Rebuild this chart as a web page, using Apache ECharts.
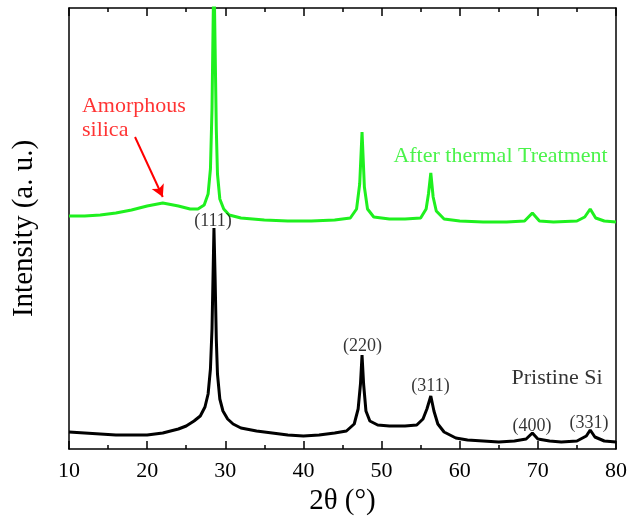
<!DOCTYPE html>
<html>
<head>
<meta charset="utf-8">
<script src="https://cdn.jsdelivr.net/npm/echarts@6/dist/echarts.min.js"></script>
<style>
  html, body { margin: 0; padding: 0; background: #fff; }
  #chart { width: 632px; height: 522px; }
</style>
</head>
<body>
<div id="chart"></div>
<script>
// 2θ / intensity pairs (arbitrary units)
const pristine = [
  [10, 17], [12, 16], [14, 15], [16, 14], [18, 14], [20, 14], [22, 16], [24, 20],
  [25, 23], [26, 28], [26.8, 33], [27.4, 42], [27.8, 55], [28.1, 80], [28.3, 120],
  [28.45, 180], [28.55, 221], [28.7, 170], [28.85, 110], [29.0, 75], [29.3, 50],
  [29.7, 38], [30.3, 30], [31, 25], [32, 21], [34, 18], [36, 16], [38, 14], [40, 13],
  [42, 14], [44, 16], [45.5, 18], [46.5, 25], [47.0, 40], [47.3, 65], [47.5, 94],
  [47.7, 65], [48.0, 38], [48.5, 28], [49.5, 24], [51, 23], [53, 23], [54.5, 24],
  [55.3, 30], [55.8, 40], [56.3, 53], [56.7, 38], [57.2, 25], [58, 17], [59.5, 11],
  [61, 9], [63, 8], [65, 7], [67, 8], [68.5, 10], [69.3, 16], [70, 10], [71.5, 8],
  [73, 7], [75, 8], [76.2, 13], [76.7, 19], [77.3, 12], [78.5, 8], [80, 7]
];
const treated = [
  [10, 233], [12, 233], [14, 234], [16, 236], [18, 239], [20, 243], [22, 246], [24, 243],
  [25.5, 240], [26.5, 240], [27.3, 244], [27.8, 255], [28.1, 280], [28.3, 340],
  [28.45, 430], [28.55, 480], [28.7, 400], [28.85, 320], [29.0, 275], [29.3, 250],
  [29.8, 240], [30.5, 234], [32, 231], [35, 229], [38, 228], [41, 228], [44, 229],
  [46, 231], [46.8, 240], [47.2, 265], [47.5, 317], [47.8, 262], [48.2, 240], [49, 232],
  [51, 230], [53, 230], [55, 231], [55.7, 240], [56.0, 255], [56.3, 276], [56.6, 252],
  [57.0, 238], [58, 230], [60, 228], [63, 227], [66, 227], [68.3, 228], [69.3, 236],
  [70.2, 228], [72, 227], [75, 228], [76.0, 232], [76.7, 240], [77.4, 231], [78.5, 228],
  [80, 227]
];
const xTicks = [10, 20, 30, 40, 50, 60, 70, 80];
// peak labels: [2θ, y, text]
const hklLabels = [
  [28.43, 228, '(111)'], [47.56, 103, '(220)'], [56.26, 63, '(311)'],
  [69.25, 23, '(400)'], [76.55, 26, '(331)']
];
const seriesNames = ['Pristine Si', 'After thermal Treatment'];
const seriesNamePos = [[72.45, 71], [65.22, 293]];
const silicaNote = [11.66, 331, 'Amorphous\nsilica'];
const arrowFrom = [18.45, 312];
const arrowTo = [22.0, 252];

const black = '#000000';
const green = '#1ef01e';
const red = '#ff0000';
const font = '"Liberation Serif", "Times New Roman", serif';

const chart = echarts.init(document.getElementById('chart'));

const xAxisBase = {
  type: 'value',
  min: xTicks[0],
  max: xTicks[xTicks.length - 1],
  interval: 10,
  splitLine: { show: false },
  axisLine: { show: true, onZero: false, lineStyle: { color: black, width: 1.5 } },
  axisTick: { show: true, inside: true, length: 8, lineStyle: { color: black, width: 1.5 } },
  minorTick: { show: true, splitNumber: 2, length: 4, lineStyle: { color: black, width: 1.5 } }
};

const yAxisBase = {
  type: 'value',
  min: 0,
  max: 441,
  axisLine: { show: true, onZero: false, lineStyle: { color: black, width: 1.5 } },
  axisTick: { show: false },
  axisLabel: { show: false },
  splitLine: { show: false }
};

const option = {
  animation: false,
  backgroundColor: '#fff',
  grid: { left: 69, right: 16, top: 8, bottom: 73 },
  xAxis: [
    Object.assign({}, xAxisBase, {
      position: 'bottom',
      name: '2θ (°)',
      nameLocation: 'middle',
      nameGap: 38,
      nameTextStyle: { fontFamily: font, fontSize: 29, color: black },
      axisLabel: { fontFamily: font, fontSize: 22, color: black, margin: 11 }
    }),
    Object.assign({}, xAxisBase, {
      position: 'top',
      axisLabel: { show: false }
    })
  ],
  yAxis: [
    Object.assign({}, yAxisBase, {
      position: 'left',
      name: 'Intensity (a. u.)',
      nameLocation: 'middle',
      nameGap: 30,
      nameTextStyle: { fontFamily: font, fontSize: 29, color: black }
    }),
    Object.assign({}, yAxisBase, { position: 'right' })
  ],
  series: [
    {
      name: seriesNames[0],
      type: 'line',
      data: pristine,
      showSymbol: false,
      lineStyle: { color: black, width: 3 },
      z: 2
    },
    {
      name: seriesNames[1],
      type: 'line',
      data: treated,
      showSymbol: false,
      clip: true,
      lineStyle: { color: green, width: 3 },
      z: 3,
      markLine: {
        silent: true,
        symbol: ['none', 'arrow'],
        symbolSize: [10, 12],
        label: { show: false },
        lineStyle: { color: red, width: 2, type: 'solid' },
        data: [[{ coord: arrowFrom }, { coord: arrowTo }]]
      }
    },
    {
      // peak indices
      type: 'scatter',
      silent: true,
      symbolSize: 0,
      data: hklLabels.map(d => ({ value: [d[0], d[1]], name: d[2] })),
      label: {
        show: true,
        position: 'inside',
        formatter: p => p.name,
        fontFamily: font,
        fontSize: 18,
        color: black
      },
      z: 5
    },
    {
      // sample names
      type: 'scatter',
      silent: true,
      symbolSize: 0,
      data: [
        { value: seriesNamePos[0], name: seriesNames[0], label: { color: black } },
        { value: seriesNamePos[1], name: seriesNames[1], label: { color: green } }
      ],
      label: {
        show: true,
        position: 'inside',
        formatter: p => p.name,
        fontFamily: font,
        fontSize: 22
      },
      z: 5
    },
    {
      type: 'scatter',
      silent: true,
      symbolSize: 0,
      data: [{ value: [silicaNote[0], silicaNote[1]], name: silicaNote[2] }],
      label: {
        show: true,
        position: 'right',
        distance: 0,
        align: 'left',
        formatter: p => p.name,
        fontFamily: font,
        fontSize: 22,
        lineHeight: 24,
        color: red
      },
      z: 5
    }
  ]
};

chart.setOption(option);
</script>
</body>
</html>
